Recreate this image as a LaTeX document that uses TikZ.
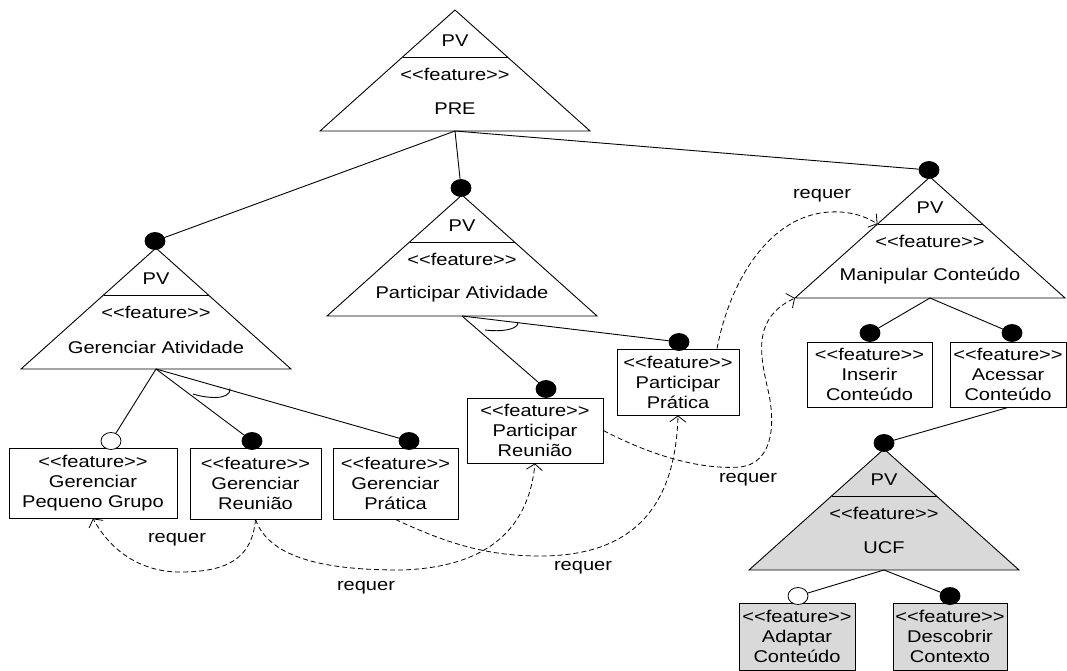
\documentclass[tikz,border=0pt]{standalone}
\usepackage{fontspec}
\setmainfont{Liberation Sans}[FakeStretch=1.18]
\usetikzlibrary{arrows.meta,shapes.geometric}
\definecolor{ucfgray}{RGB}{217,217,217}

\tikzset{
  tri/.style={draw=black,line width=0.9pt},
  lbl/.style={inner sep=0pt,font=\fontsize{17}{20}\selectfont},
  box/.style={draw=black,line width=0.9pt,fill=white,align=center,inner sep=0pt,
              font=\fontsize{17}{20}\selectfont},
  graybox/.style={box,fill=ucfgray},
  full/.style={ellipse,fill=black,draw=black,line width=0.8pt,inner sep=0pt,
               minimum width=20pt,minimum height=17pt},
  hollow/.style={full,fill=white},
  link/.style={draw=black,line width=0.9pt},
  req/.style={draw=black,line width=0.8pt,dash pattern=on 5pt off 3pt,
              -{Straight Barb[length=6pt,width=16pt]}},
}

% feature triangle: [fill] name, apex x, apex y, feature name
\newcommand\featuretri[5][white]{%
  \begin{scope}[shift={(#3,#4)}]
    \draw[tri,fill=#1] (0,0) -- (135,121) -- (-135,121) -- cycle;
    \draw[tri] (-52.5,47) -- (52.5,47);
    \coordinate (#2-apex) at (0,0);
    \coordinate (#2-base) at (0,121);
    \coordinate (#2-bl) at (-135,121);
    \coordinate (#2-dl) at (-52.5,47);
    \node[lbl] (#2-pv) at (0,31) {PV};
    \node[lbl] (#2-st) at (0,64) {<{}<feature>{}>};
    \node[lbl] (#2-nm) at (0,99) {#5};
  \end{scope}}

\begin{document}
\begin{tikzpicture}[x=1pt,y=-1pt]
\useasboundingbox (0,0) rectangle (1067,671);

% triangles
\featuretri{pre}{455}{10}{PRE}
\featuretri{ga}{156}{248}{Gerenciar Atividade}
\featuretri{pa}{462}{195}{Participar Atividade}
\featuretri{mc}{930}{177}{Manipular Conteúdo}
\featuretri[ucfgray]{ucf}{884}{449}{UCF}

% leaf features
\node[box,minimum width=168pt,minimum height=70pt] (gpg) at (93,483)
  {<{}<feature>{}>\\Gerenciar\\Pequeno Grupo};
\node[box,minimum width=131pt,minimum height=71pt] (gr) at (255.5,483.5)
  {<{}<feature>{}>\\Gerenciar\\Reunião};
\node[box,minimum width=125pt,minimum height=71pt] (gp) at (395.5,483.5)
  {<{}<feature>{}>\\Gerenciar\\Prática};
\node[box,minimum width=136pt,minimum height=65pt] (pr) at (535,430.5)
  {<{}<feature>{}>\\Participar\\Reunião};
\node[box,minimum width=122pt,minimum height=66pt] (pp) at (678,382)
  {<{}<feature>{}>\\Participar\\Prática};
\node[box,minimum width=125pt,minimum height=65pt] (ins) at (869.5,374.5)
  {<{}<feature>{}>\\Inserir\\Conteúdo};
\node[box,minimum width=116pt,minimum height=65pt] (ac) at (1008,374.5)
  {<{}<feature>{}>\\Acessar\\Conteúdo};
\node[graybox,minimum width=116pt,minimum height=67pt] (ad) at (797,636.5)
  {<{}<feature>{}>\\Adaptar\\Conteúdo};
\node[graybox,minimum width=114pt,minimum height=67pt] (desc) at (950,636.5)
  {<{}<feature>{}>\\Descobrir\\Contexto};

% multiplicity markers
\node[full]   (d-ga)   at (155,241) {};
\node[full]   (d-pa)   at (461,188) {};
\node[full]   (d-mc)   at (929,170) {};
\node[hollow] (o-gpg)  at (111,441) {};
\node[full]   (d-gr)   at (252,441) {};
\node[full]   (d-gp)   at (409,441) {};
\node[full]   (d-pr)   at (546,389) {};
\node[full]   (d-pp)   at (679,342) {};
\node[full]   (d-ins)  at (870,333) {};
\node[full]   (d-ac)   at (1012,333) {};
\node[full]   (d-ucf)  at (884,443) {};
\node[hollow] (o-ad)   at (798,596) {};
\node[full]   (d-desc) at (950,596) {};

% decomposition links
\draw[link] (pre-base) -- (d-ga);
\draw[link] (pre-base) -- (d-pa);
\draw[link] (pre-base) -- (d-mc);
\draw[link] (ga-base) -- (o-gpg);
\draw[link] (ga-base) -- (d-gr);
\draw[link] (ga-base) -- (d-gp);
\draw[link] (pa-base) -- (d-pr);
\draw[link] (pa-base) -- (d-pp);
\draw[link] (mc-base) -- (d-ins);
\draw[link] (mc-base) -- (d-ac);
\draw[link] (ac.south) -- (d-ucf);
\draw[link] (ucf-base) -- (o-ad);
\draw[link] (ucf-base) -- (d-desc);

% alternative-group arcs
\draw[link] (193,394) .. controls (205,398) and (231,401) .. (230,388.5);
\draw[link] (485,330) .. controls (500,332) and (518,330) .. (518,322.5);

% requires dependencies
\draw[req] (gr.south) .. controls (252,560) and (225,572) .. (180,572)
           .. controls (140,572) and (110,550) .. (gpg.south);
\draw[req] (gr.south) .. controls (270,560) and (330,570) .. (400,570)
           .. controls (480,568) and (528,535) .. (pr.south);
\draw[req] (gp.south) .. controls (450,545) and (490,556) .. (540,556)
           .. controls (620,556) and (675,520) .. (pp.south);
\draw[req] (pr.east) .. controls (650,455) and (700,470) .. (740,467)
           .. controls (775,463) and (775,420) .. (768,390)
           .. controls (760,355) and (752,318) .. (mc-bl);
\draw[req] ([xshift=39pt]pp.north) .. controls (730,280) and (770,215) .. (830,212)
           .. controls (850,211) and (865,216) .. (mc-dl);

\node[lbl] (rq1) at (177,540) {requer};
\node[lbl] (rq2) at (366,588) {requer};
\node[lbl] (rq3) at (583,568) {requer};
\node[lbl] (rq4) at (748,480) {requer};
\node[lbl] (rq5) at (822,196) {requer};
\end{tikzpicture}
\end{document}
